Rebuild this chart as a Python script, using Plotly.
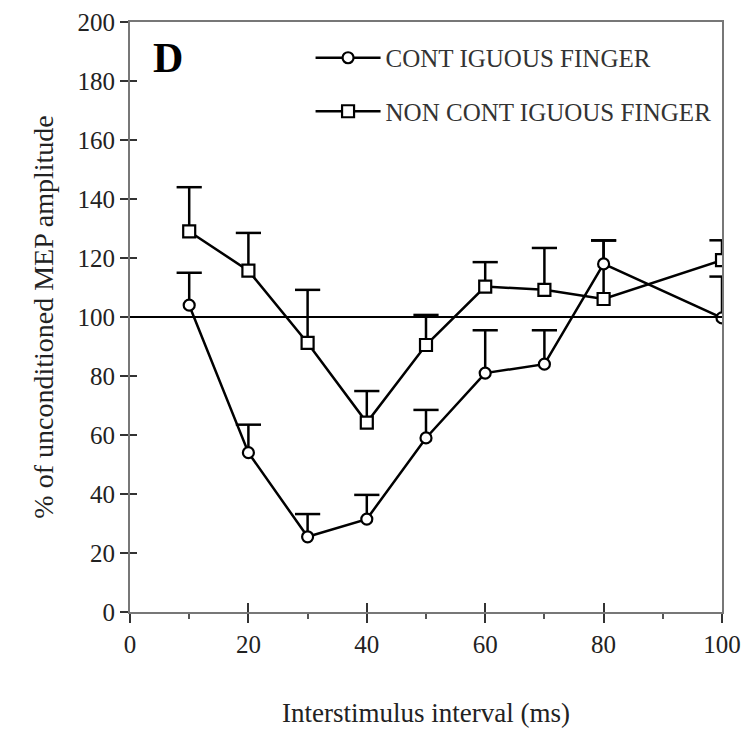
import plotly.graph_objects as go

isi = [10, 20, 30, 40, 50, 60, 70, 80, 100]
contig = [104, 54, 25.5, 31.5, 59, 81, 84, 118, 99.7]
contig_err = [11, 9.5, 7.7, 8.2, 9.5, 14.5, 11.5, 8, 14]
noncontig = [129, 115.7, 91.2, 64.2, 90.5, 110.3, 109.2, 106.1, 119.3]
noncontig_err = [15, 12.8, 18, 10.7, 10.2, 8.3, 14.2, 19.8, 6.7]

serif = "Liberation Serif, Times New Roman, serif"

fig = go.Figure()


def add_upper_errors(xs, ys, errs):
    # stems from the mean up to mean + SE
    sx, sy = [], []
    for x, y, e in zip(xs, ys, errs):
        sx += [x, x, None]
        sy += [y, y + e, None]
    fig.add_trace(go.Scatter(x=sx, y=sy, mode="lines", showlegend=False, hoverinfo="skip",
                             line=dict(color="black", width=2.5)))
    # caps
    fig.add_trace(go.Scatter(x=xs, y=[y + e for y, e in zip(ys, errs)], mode="markers",
                             showlegend=False, hoverinfo="skip",
                             marker=dict(symbol="line-ew-open", size=18, color="black",
                                         line=dict(color="black", width=2.5))))


add_upper_errors(isi, contig, contig_err)
add_upper_errors(isi, noncontig, noncontig_err)

fig.add_trace(go.Scatter(
    x=isi, y=contig, mode="lines+markers", name="CONT IGUOUS FINGER",
    legendgroup="a",
    line=dict(color="black", width=2.5),
    marker=dict(symbol="circle", size=11, color="white", line=dict(color="black", width=2.2)),
))
fig.add_trace(go.Scatter(
    x=isi, y=noncontig, mode="lines+markers", name="NON CONT IGUOUS FINGER",
    legendgroup="b",
    line=dict(color="black", width=2.5),
    marker=dict(symbol="square", size=12, color="white", line=dict(color="black", width=2.2)),
))
# inner tick axes (no data)
fig.add_trace(go.Scatter(x=[None], y=[None], xaxis="x2", yaxis="y2", showlegend=False))

fig.add_hline(y=100, line=dict(color="black", width=2))

fig.add_annotation(text="<b>D</b>", x=0.035, y=0.982, xref="paper", yref="paper",
                   xanchor="left", yanchor="top", showarrow=False,
                   font=dict(family=serif, size=42, color="black"))

axis_common = dict(showgrid=False, zeroline=False, linecolor="#777", linewidth=2,
                   tickcolor="#333", tickwidth=2, automargin=False)

fig.update_layout(
    width=744, height=731,
    margin=dict(l=130, r=22, t=22, b=119),
    paper_bgcolor="white", plot_bgcolor="white",
    font=dict(family=serif, size=25, color="#222"),
    showlegend=True,
    legend=dict(x=0.305, y=0.978, xanchor="left", yanchor="top",
                bgcolor="rgba(0,0,0,0)", font=dict(family=serif, size=25, color="#333"),
                tracegroupgap=18, traceorder="grouped", itemwidth=65),
    xaxis=dict(range=[0, 100], tickvals=[0, 20, 40, 60, 80, 100], ticks="outside",
               ticklen=9, mirror=True,
               title=dict(text="Interstimulus interval (ms)", font=dict(size=27), standoff=46),
               minor=dict(tickvals=[10, 30, 50, 70, 90], ticks="outside", ticklen=5,
                          tickcolor="#555", tickwidth=1.5),
               **axis_common),
    yaxis=dict(range=[0, 200], dtick=20, ticks="outside", ticklen=8, mirror=True,
               title=dict(text="% of unconditioned MEP amplitude", font=dict(size=28), standoff=16),
               **axis_common),
    xaxis2=dict(range=[0, 100], overlaying="x", tickvals=[20, 40, 60, 80], ticks="inside",
                ticklen=9, showticklabels=False, showgrid=False, zeroline=False,
                showline=False, tickcolor="#333", tickwidth=2),
    yaxis2=dict(range=[0, 200], overlaying="y", dtick=20, ticks="inside", ticklen=7,
                showticklabels=False, showgrid=False, zeroline=False, showline=False,
                tickcolor="#333", tickwidth=2),
)

fig.write_html("out.html")
